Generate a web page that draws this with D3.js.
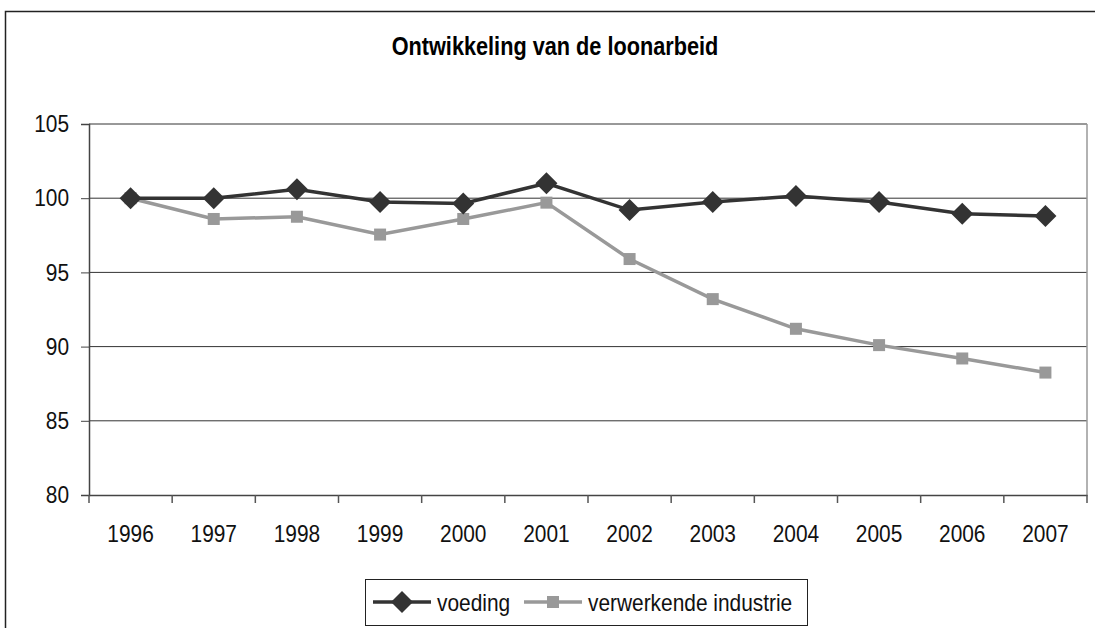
<!DOCTYPE html>
<html>
  <head>
    <script src="https://d3js.org/d3.v7.min.js"></script>
    <style>
      body { margin: 0; background: #fff; }
      text { font-family: "Liberation Sans", Arial, sans-serif; }
    </style>
  </head>
  <body>
    <svg width="1095" height="628"></svg>
    <script>
      const years = ["1996", "1997", "1998", "1999", "2000", "2001", "2002", "2003", "2004", "2005", "2006", "2007"];
      const voeding = [100, 100, 100.6, 99.75, 99.65, 101.0, 99.2, 99.75, 100.15, 99.75, 98.95, 98.8];
      const industrie = [100, 98.6, 98.75, 97.55, 98.6, 99.7, 95.9, 93.2, 91.2, 90.1, 89.2, 88.25];
      const yTicks = [80, 85, 90, 95, 100, 105];

      // no narrow font installed, so squeeze Liberation Sans horizontally
      const squeeze = 0.87;
      const font = "'Liberation Sans', Arial, sans-serif";
      const svg = d3.select("svg");

      // outer chart frame (runs off the right and bottom)
      svg.append("rect")
        .attr("x", 5.5).attr("y", 11.5)
        .attr("width", 1200).attr("height", 700)
        .attr("fill", "none").attr("stroke", "#222").attr("stroke-width", 1.5);

      svg.append("text")
        .attr("transform", "translate(555,55) scale(0.835,1)")
        .attr("text-anchor", "middle")
        .attr("font-size", 26).attr("font-weight", "bold")
        .text("Ontwikkeling van de loonarbeid");

      const plotL = 89, plotR = 1087, plotT = 124, plotB = 495;
      const x = d3.scaleBand().domain(years).range([plotL, plotR]);
      const y = d3.scaleLinear().domain([80, 105]).range([plotB, plotT]);

      // gridlines
      svg.append("g").selectAll("line").data(yTicks.slice(1)).join("line")
        .attr("x1", plotL).attr("x2", plotR)
        .attr("y1", d => y(d)).attr("y2", d => y(d))
        .attr("stroke", "#333").attr("stroke-width", 1);

      // right plot border
      svg.append("line")
        .attr("x1", plotR).attr("x2", plotR).attr("y1", plotT).attr("y2", plotB)
        .attr("stroke", "#999").attr("stroke-width", 1.5);

      const yAxis = svg.append("g")
        .attr("transform", `translate(${plotL},0)`)
        .call(d3.axisLeft(y).tickValues(yTicks).tickSize(8).tickPadding(12));
      yAxis.select(".domain").attr("stroke", "#444").attr("stroke-width", 1.5);
      yAxis.selectAll(".tick line").attr("stroke", "#444");
      yAxis.selectAll("text")
        .attr("x", 0)
        .attr("transform", `translate(-20,0) scale(${squeeze},1)`)
        .attr("font-size", 24).attr("fill", "#111")
        .attr("font-family", font);

      const xAxis = svg.append("g")
        .attr("transform", `translate(0,${plotB})`)
        .call(d3.axisBottom(x).tickSize(0).tickPadding(30));
      xAxis.select(".domain").attr("stroke", "#444").attr("stroke-width", 1.5);
      xAxis.selectAll("text")
        .attr("transform", `scale(${squeeze},1)`)
        .attr("font-size", 24).attr("fill", "#111")
        .attr("font-family", font);

      // ticks between categories
      const bounds = years.map(d => x(d)).concat([plotR]);
      svg.append("g").selectAll("line").data(bounds).join("line")
        .attr("x1", d => d).attr("x2", d => d)
        .attr("y1", plotB).attr("y2", plotB + 8)
        .attr("stroke", "#555").attr("stroke-width", 1.5);

      const cx = d => x(d) + x.bandwidth() / 2;
      const line = d3.line().x((d, i) => cx(years[i])).y(d => y(d));

      const series = [
        { values: industrie, color: "#999999", shape: "square" },
        { values: voeding, color: "#333333", shape: "diamond" }
      ];

      function marker(g, shape, color, px, py) {
        if (shape === "diamond") {
          g.append("path")
            .attr("d", `M${px},${py - 11}L${px + 11},${py}L${px},${py + 11}L${px - 11},${py}Z`)
            .attr("fill", color);
        } else {
          g.append("rect")
            .attr("x", px - 6).attr("y", py - 6).attr("width", 12).attr("height", 12)
            .attr("fill", color);
        }
      }

      series.forEach(s => {
        svg.append("path")
          .datum(s.values)
          .attr("d", line)
          .attr("fill", "none")
          .attr("stroke", s.color)
          .attr("stroke-width", 3.5);
        const g = svg.append("g");
        s.values.forEach((v, i) => marker(g, s.shape, s.color, cx(years[i]), y(v)));
      });

      // legend
      const lg = svg.append("g");
      lg.append("rect")
        .attr("x", 365.5).attr("y", 579.5).attr("width", 442).attr("height", 46)
        .attr("fill", "#fff").attr("stroke", "#222").attr("stroke-width", 1);
      const legendItems = [
        { name: "voeding", color: "#333333", shape: "diamond", x0: 373, tx: 437 },
        { name: "verwerkende industrie", color: "#999999", shape: "square", x0: 524, tx: 588 }
      ];
      legendItems.forEach(it => {
        lg.append("line")
          .attr("x1", it.x0).attr("x2", it.x0 + 58)
          .attr("y1", 602).attr("y2", 602)
          .attr("stroke", it.color).attr("stroke-width", 3.5);
        marker(lg, it.shape, it.color, it.x0 + 29, 602);
        lg.append("text")
          .attr("transform", `translate(${it.tx},611) scale(${squeeze},1)`)
          .attr("font-size", 24).attr("fill", "#111")
          .text(it.name);
      });
    </script>
  </body>
</html>
